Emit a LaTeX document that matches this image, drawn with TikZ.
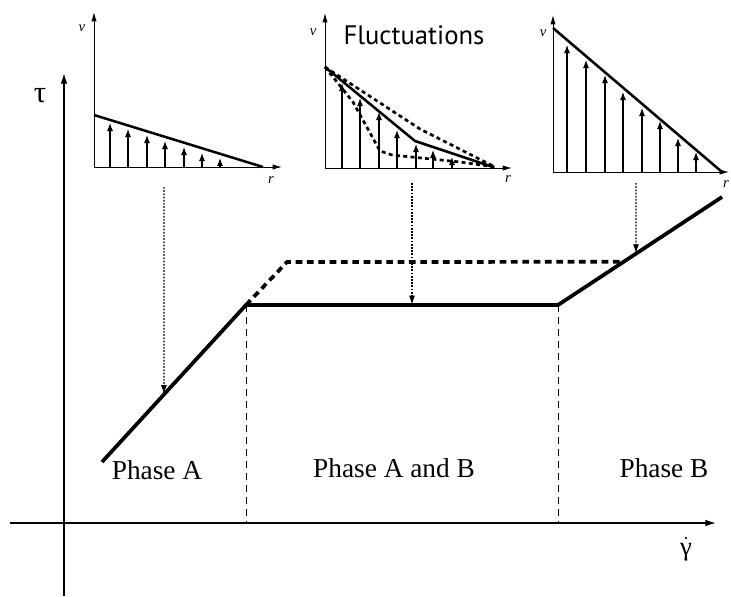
\documentclass[tikz,border=0pt]{standalone}
\usepackage{fontspec}
\setmainfont{Liberation Serif}
\newfontfamily\flucfont{PT Sans}
\usetikzlibrary{arrows.meta,calc}

\begin{document}
\begin{tikzpicture}[x=0.75pt,y=-0.75pt,
    axis/.style={line width=1pt,-{Latex[length=8pt,width=5pt]}},
    smallaxis/.style={line width=0.7pt,{Latex[length=7pt,width=4pt]}-{Latex[length=7pt,width=4pt]}},
    profile/.style={line width=1.9pt},
    velo/.style={line width=0.8pt,-{Latex[length=6pt,width=4.5pt]}},
    fluct/.style={line width=2pt,dash pattern=on 3pt off 2.5pt},
    curve/.style={line width=2.8pt},
    phaseline/.style={line width=0.7pt,dash pattern=on 5pt off 4pt},
    pointer/.style={line width=1pt,dash pattern=on 1.3pt off 1.1pt,-{Latex[length=7pt,width=4.5pt]}},
    phase/.style={font=\fontsize{20.5}{24}\selectfont},
    lbl/.style={font=\fontsize{11}{12}\selectfont\itshape}]

    \useasboundingbox (0,0) rectangle (731,596);

    % axes
    \coordinate (O) at (64,523);
    \draw[axis] (64,596) -- (64,73);
    \draw[axis] (10,523) -- (716,523);
    \node (tau) at (40,96) {\fontsize{23}{24}\selectfont τ};
    \node (gdot) at (686,549) {\fontsize{20}{22}\selectfont $\dot{\hbox{γ}}$};

    % flow curve
    \coordinate (S) at (102,462);
    \coordinate (A) at (246,305);
    \coordinate (B) at (558,305);
    \coordinate (E) at (722,197);
    \coordinate (K) at (287,262);
    \coordinate (T) at ($(B)!0.4!(E)$);
    \draw[curve] (S) -- (A) -- (B) -- (E);
    \draw[curve,dash pattern=on 5pt off 3.5pt] (A) -- (K) -- (T);

    % phases
    \draw[phaseline] (A) -- (A |- O) (B) -- (B |- O);
    \node[phase] (pA) at (157,470) {Phase A};
    \node[phase] (pAB) at (394,468) {Phase A and B};
    \node[phase] (pB) at (664,468) {Phase B};

    % profile of phase A
    \draw[smallaxis] (94,12) -- (94,167) -- (282,167);
    \draw[profile] (94,115) -- (263,167);
    \foreach \x/\y in {110/123,128/129,147/135,165/141,184/147,202/153,220/158}
        \draw[velo] (\x,167) -- (\x,\y);
    \node[lbl] (v1) at (82,28) {v};
    \node[lbl] (r1) at (271,180) {r};

    % fluctuating profile
    \draw[smallaxis] (325,13) -- (325,168) -- (512,168);
    \draw[profile] (325,67) -- (415,141) -- (493,167);
    \draw[fluct] (325,67) -- (420,129) -- (495,167);
    \draw[fluct] (325,67) -- (353,102) -- (380,151) -- (392,155) -- (460,162) -- (495,167);
    \foreach \x/\y in {342/83,360/98,379/112,397/130,416/144,433/150,452/157}
        \draw[velo] (\x,168) -- (\x,\y);
    \node[lbl] (v2) at (313,32) {v};
    \node[lbl] (r2) at (508,179) {r};
    \node (fl) at (414,35) {\flucfont\fontsize{20}{24}\selectfont Fluctuations};

    % profile of phase B
    \draw[smallaxis] (553,15) -- (553,172) -- (729,172);
    \draw[profile] (553,28) -- (722,172);
    \foreach \x/\y in {567/45,586/60,605/75,623/92,642/108,660/121,678/138,696/152}
        \draw[velo] (\x,172) -- (\x,\y);
    \node[lbl] (v3) at (543,33) {v};
    \node[lbl] (r3) at (726,184) {r};

    % pointers
    \coordinate (a1) at (164,187);
    \coordinate (a2) at ($(S)!0.43!(A)$);
    \coordinate (b1) at (412,183);
    \coordinate (b2) at (412,305);
    \coordinate (c1) at (636,183);
    \coordinate (c2) at ($(B)!0.4756!(E)$);
    \draw[pointer] (a1) -- (a2);
    \draw[pointer] (b1) -- (b2);
    \draw[pointer] (c1) -- (c2);
\end{tikzpicture}
\end{document}
